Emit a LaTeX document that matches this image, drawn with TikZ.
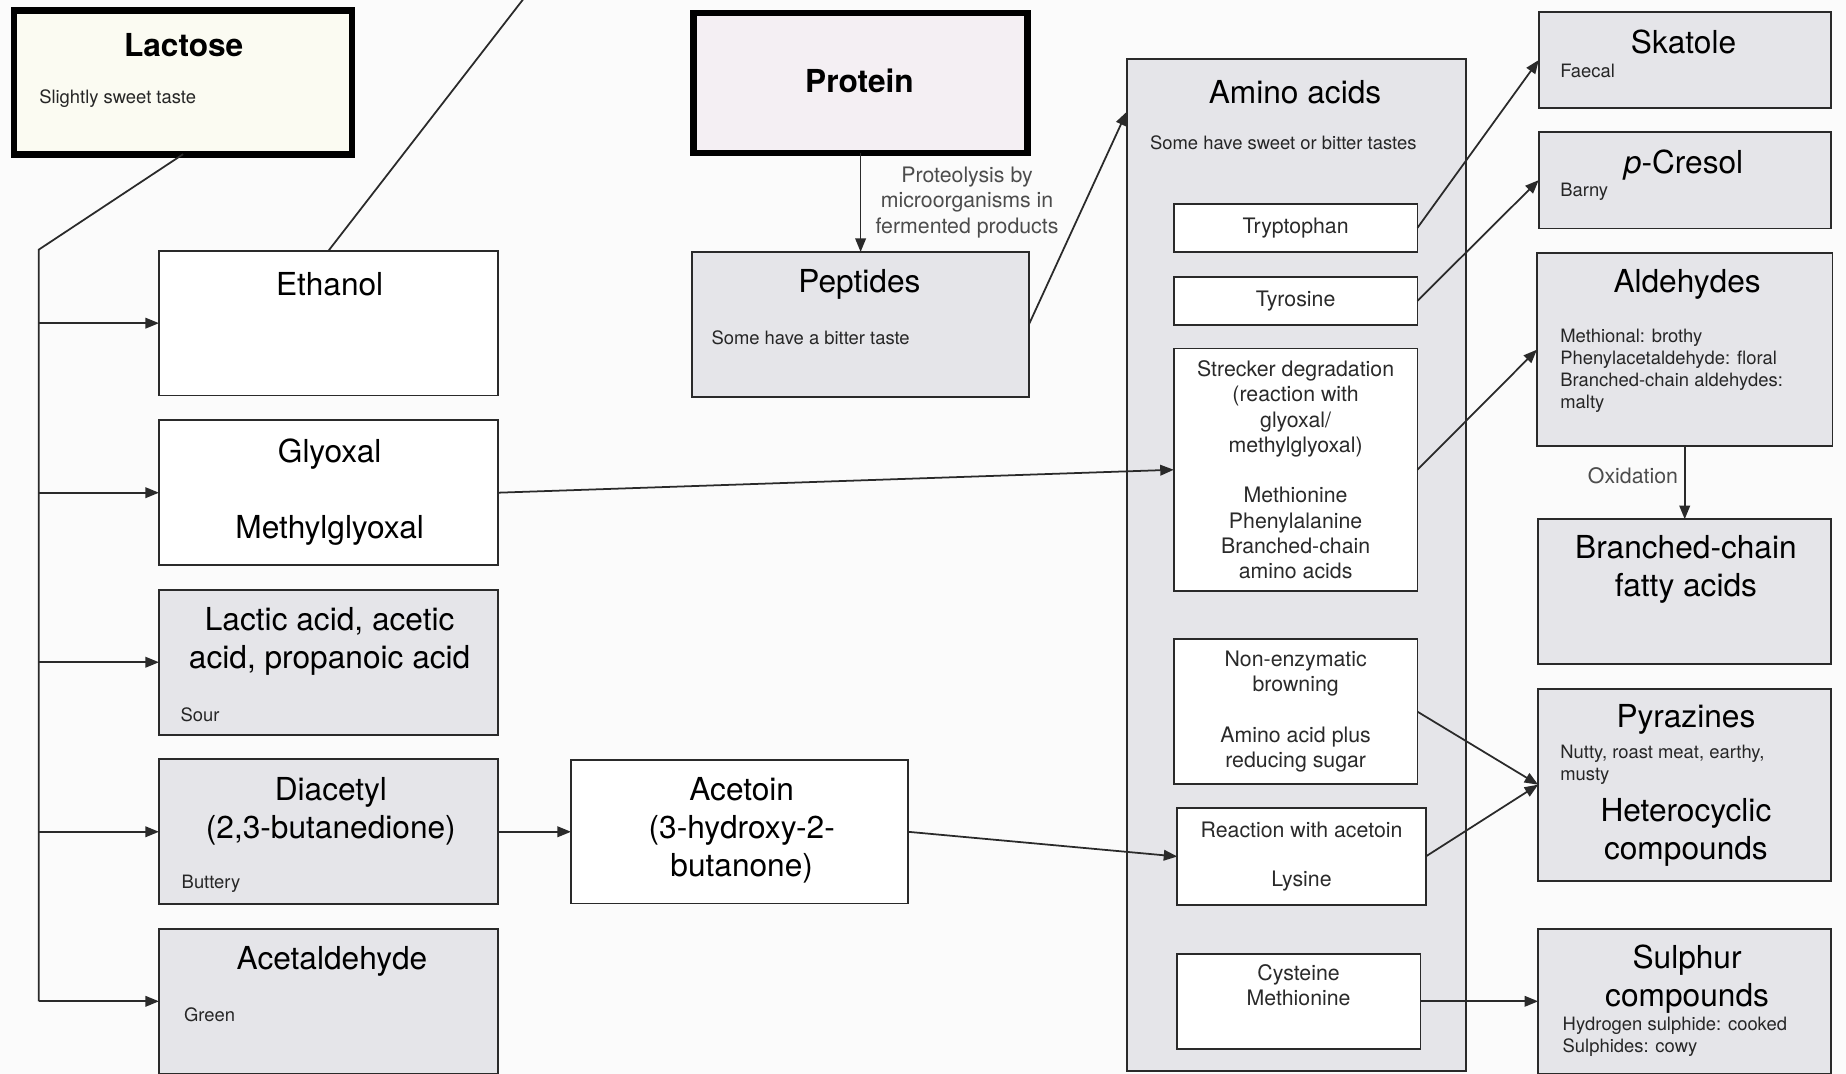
\documentclass[tikz,border=0pt]{standalone}
\usepackage{fontspec}
\setmainfont{TeX Gyre Heros}
\usetikzlibrary{arrows.meta,positioning}
\definecolor{flowline}{HTML}{2A2A2A}
\definecolor{boxgrey}{HTML}{E5E5E9}
\definecolor{lactosefill}{HTML}{FBFBF2}
\definecolor{proteinfill}{HTML}{F4EFF3}
\definecolor{pagebg}{HTML}{FBFBFB}
\definecolor{notegrey}{HTML}{262626}
\tikzset{
  plainbox/.style={rectangle,draw=flowline,line width=0.85pt,fill=white,
    outer sep=0pt,inner sep=0pt},
  greybox/.style={plainbox,fill=boxgrey},
  sourcebox/.style={plainbox,draw=black,line width=3.2pt},
  leftcol/.style={minimum width=57.6mm,minimum height=24.6mm},
  rightcol/.style={minimum width=49.8mm},
  reactbox/.style={plainbox,align=center,minimum width=41.4mm,
    font=\fontsize{10.3}{12.2}\selectfont,text=flowline},
  title/.style={inner sep=0pt,align=center,font=\fontsize{15.3}{18.4}\selectfont},
  heading/.style={title,font=\fontsize{15.3}{18.4}\selectfont\bfseries},
  note/.style={inner sep=0pt,align=left,font=\fontsize{8.9}{10.6}\selectfont,text=notegrey},
  pathlabel/.style={inner sep=0pt,align=center,font=\fontsize{10.3}{12.2}\selectfont,text=black!70},
  flow/.style={-{Triangle[length=2.3mm,width=1.8mm]},line width=0.85pt,draw=flowline},
  link/.style={line width=0.85pt,draw=flowline}
}
\begin{document}
\begin{tikzpicture}[x=0.2mm,y=-0.2mm,node distance=4.2mm]
  \path[use as bounding box,fill=pagebg] (0,0) rectangle (1568,912);
  \clip (0,0) rectangle (1568,912);

  % sources
  \node[sourcebox,fill=lactosefill,minimum width=57.4mm,minimum height=24.4mm] (lactose) at (155.5,70) {};
  \node[sourcebox,fill=proteinfill,minimum width=56.8mm,minimum height=23.8mm] (protein) at (731,70.5) {};
  \node[greybox,minimum width=57.2mm,minimum height=24.6mm,below=16.8mm of protein] (peptides) {};

  % lactose products
  \node[plainbox,leftcol] (ethanol) at (279,274.5) {};
  \node[plainbox,leftcol,below=of ethanol] (glyoxal) {};
  \node[greybox,leftcol,below=of glyoxal] (acids) {};
  \node[greybox,leftcol,below=of acids] (diacetyl) {};
  \node[greybox,leftcol,below=of diacetyl] (acetaldehyde) {};
  \node[plainbox,minimum width=57.2mm,minimum height=24.4mm,right=12.4mm of diacetyl] (acetoin) {};

  % amino acids and their reactions
  \node[greybox,minimum width=57.6mm,minimum height=172mm] (amino) at (1101,480) {};
  \node[reactbox,minimum height=8.2mm] (tryptophan) at (1100.5,193.5) {Tryptophan};
  \node[reactbox,minimum height=8.2mm,below=of tryptophan] (tyrosine) {Tyrosine};
  \node[reactbox,minimum height=41.2mm,below=4mm of tyrosine] (strecker)
    {Strecker degradation\\(reaction with\\glyoxal/\\methylglyoxal)\\[12.2pt]Methionine\\Phenylalanine\\Branched-chain\\amino acids};
  \node[reactbox,minimum height=24.6mm,below=8.2mm of strecker] (browning)
    {Non-enzymatic\\browning\\[12.2pt]Amino acid plus\\reducing sugar};
  \node[reactbox,minimum width=42.2mm,minimum height=16.6mm,below=4mm of browning,xshift=1mm] (acetoinrx)
    {Reaction with acetoin\\[11.7pt]Lysine};
  \node[reactbox,minimum height=16.2mm,below=8.2mm of acetoinrx,xshift=-0.5mm] (sulphuraa)
    {Cysteine\\Methionine\\\strut};

  % flavour compounds
  \node[greybox,rightcol,minimum width=49.6mm,minimum height=16.4mm] (skatole) at (1431,51) {};
  \node[greybox,rightcol,minimum width=49.6mm,minimum height=16.4mm,below=4mm of skatole] (pcresol) {};
  \node[greybox,rightcol,minimum width=50.2mm,minimum height=32.8mm,below=of pcresol] (aldehydes) {};
  \node[greybox,rightcol,minimum height=24.6mm,below=12.4mm of aldehydes] (bcfa) {};
  \node[greybox,rightcol,minimum height=32.6mm,below=of bcfa] (pyrazines) {};
  \node[greybox,rightcol,minimum height=24.6mm,below=8.2mm of pyrazines] (sulphur) {};

  % texts
  \node[heading] (lactose-t) at (156,38) {Lactose};
  \node[note,anchor=west] (lactose-n) at (33,84) {Slightly sweet taste};
  \node[heading] (protein-t) at (730,69) {Protein};
  \node[title] (peptides-t) at (730,242) {Peptides};
  \node[note,anchor=west] (peptides-n) at (604,287) {Some have a bitter taste};
  \node[title] (ethanol-t) at (280,241) {Ethanol};
  \node[title] (glyoxal-t) at (280,418) {Glyoxal\\[18pt]Methylglyoxal};
  \node[title] (acids-t) at (280,545) {Lactic acid, acetic\\acid, propanoic acid};
  \node[note,anchor=west] (acids-n) at (153,607) {Sour};
  \node[title] (diacetyl-t) at (281,689) {Diacetyl\\(2,3-butanedione)};
  \node[note,anchor=west] (diacetyl-n) at (154,751) {Buttery};
  \node[title] (acetaldehyde-t) at (282,817) {Acetaldehyde};
  \node[note,anchor=west] (acetaldehyde-n) at (156,862) {Green};
  \node[title] (acetoin-t) at (630,705) {Acetoin\\(3-hydroxy-2-\\butanone)};
  \node[title] (amino-t) at (1100,78) {Amino acids};
  \node[note] (amino-n) at (1090,121) {Some have sweet or bitter tastes};
  \node[title] (skatole-t) at (1430,36) {Skatole};
  \node[note,anchor=west] (skatole-n) at (1325,60) {Faecal};
  \node[title] (pcresol-t) at (1430,140) {\textit{p}-Cresol};
  \node[note,anchor=west] (pcresol-n) at (1325,163) {Barny};
  \node[title] (aldehydes-t) at (1433,242) {Aldehydes};
  \node[note,anchor=west] (aldehydes-n) at (1325,315)
    {Methional: brothy\\Phenylacetaldehyde: floral\\Branched-chain aldehydes:\\malty};
  \node[title] (bcfa-t) at (1432,484) {Branched-chain\\fatty acids};
  \node[title] (pyrazines-t) at (1432,611) {Pyrazines};
  \node[note,anchor=west] (pyrazines-n) at (1325,650) {Nutty, roast meat, earthy,\\musty};
  \node[title] (pyrazines-h) at (1432,707) {Heterocyclic\\compounds};
  \node[title] (sulphur-t) at (1433,832) {Sulphur\\compounds};
  \node[note,anchor=west] (sulphur-n) at (1327,881) {Hydrogen sulphide: cooked\\Sulphides: cowy};

  % connectors
  \coordinate (trunk) at (33,212);
  \coordinate (offpage) at (447,-4);
  \draw[link] (lactose.south) -- (trunk) -- (trunk |- acetaldehyde.west);
  \foreach \b in {ethanol,glyoxal,acids,diacetyl,acetaldehyde}
    \draw[flow] (trunk |- \b.west) -- (\b.west);
  \draw[link] (offpage) -- (ethanol.north);
  \draw[flow] (protein.south) -- node[pathlabel,right=2.4mm] (proteolysis)
    {Proteolysis by\\microorganisms in\\fermented products} (peptides.north);
  \draw[flow] (peptides.east) -- (amino.west |- 0,95);
  \draw[flow] (glyoxal.east) -- (strecker.west);
  \draw[flow] (diacetyl) -- (acetoin);
  \draw[flow] (acetoin.east) -- (acetoinrx.west);
  \draw[flow] (tryptophan.east) -- (skatole.west);
  \draw[flow] (tyrosine.east) -- (pcresol.west);
  \draw[flow] (strecker.east) -- (aldehydes.west);
  \draw[flow] (browning.east) -- (pyrazines.west);
  \draw[flow] (acetoinrx.east) -- (pyrazines.west);
  \draw[flow] (sulphuraa.east) -- (sulphuraa.east -| sulphur.west);
  \draw[flow] (aldehydes) -- node[pathlabel,left=1mm,pos=0.4] (oxidation) {Oxidation} (bcfa);
\end{tikzpicture}
\end{document}
